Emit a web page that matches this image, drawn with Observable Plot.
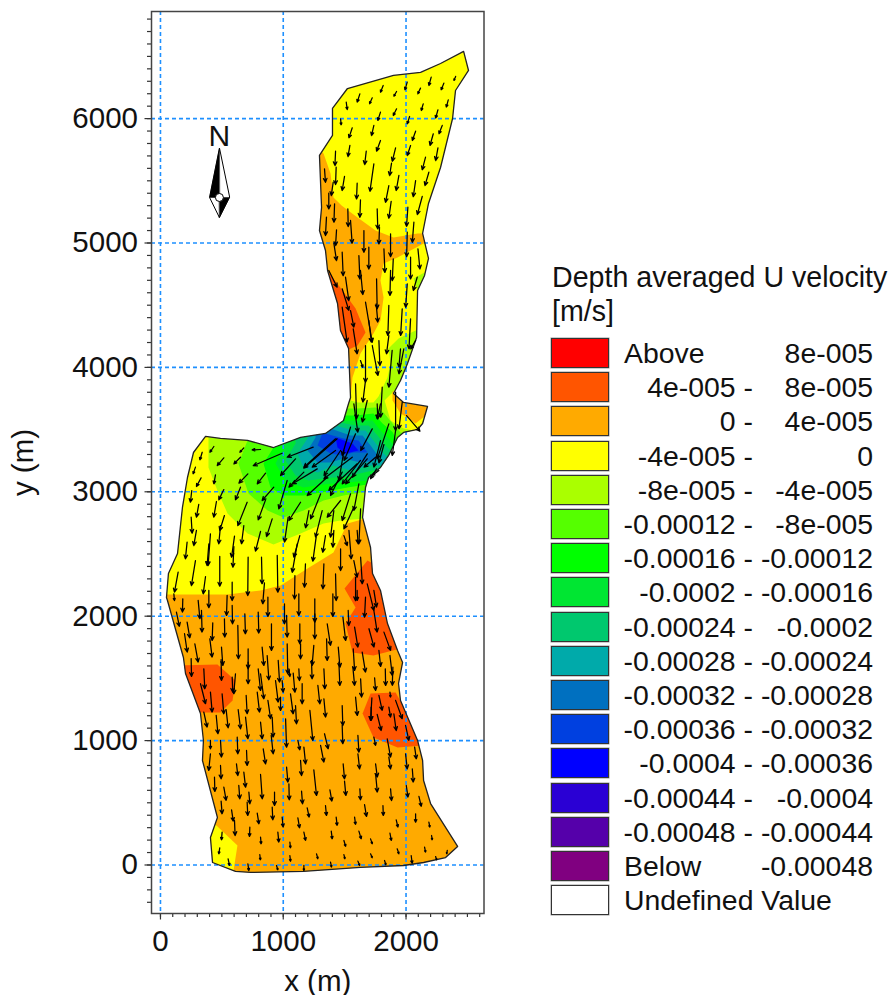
<!DOCTYPE html>
<html><head><meta charset="utf-8">
<script src="https://cdn.jsdelivr.net/npm/d3@7"></script>
<script src="https://cdn.jsdelivr.net/npm/@observablehq/plot@0.6"></script>
<style>
html,body{margin:0;padding:0;background:#fff}
#wrap{position:relative;width:892px;height:995px;font-family:"Liberation Sans",Arial,sans-serif;color:#111}
#legend{position:absolute;left:0;top:0;width:892px;height:995px;pointer-events:none}
.lt{position:absolute;left:552px;font-size:28.6px;line-height:34px;white-space:nowrap}
.sw{position:absolute;left:551px;width:56px;height:28px;border:1.5px solid #333;box-shadow:0 0 0 .5px #999}
.lo,.hi,.nm{position:absolute;font-size:28.4px;line-height:34px;white-space:pre}
.lo{right:139px}.hi{right:19px}.nm{left:624px}
</style></head><body>
<div id="wrap"><div id="chart"></div><div id="legend"></div></div>
<script>
const xTicks = [0,1000,2000];
const yTicks = [0,1000,2000,3000,4000,5000,6000];
const xMinor = d3.range(0,2601,100);
const yMinor = d3.range(-300,6801,100);

const outline = [[2469,6540],[2509,6387],[2403,6226],[2379,6001],[2281,5607],[2183,5318],[2135,5077],[2183,4876],[2151,4739],[2094,4618],[2086,4241],[2012,4032],[1955,3895],[1898,3790],[1980,3718],[2175,3686],[2135,3549],[2094,3501],[1980,3477],[1931,3437],[1858,3292],[1792,3196],[1695,3115],[1670,3035],[1646,2794],[1711,2552],[1727,2343],[1792,2207],[1849,1941],[1931,1724],[1972,1628],[1939,1459],[1955,1322],[2094,1001],[2135,840],[2143,679],[2200,494],[2420,149],[2322,60],[2143,20],[1980,-4],[1629,-20],[1165,-52],[733,-60],[611,-52],[424,20],[407,221],[464,382],[342,840],[350,1001],[326,1218],[204,1539],[187,1668],[57,2126],[49,2150],[65,2343],[139,2504],[179,2874],[220,3115],[269,3316],[367,3445],[489,3429],[709,3413],[921,3356],[1141,3437],[1344,3469],[1491,3573],[1532,3710],[1548,3758],[1532,4152],[1466,4297],[1442,4514],[1361,4779],[1344,4940],[1295,5101],[1312,5286],[1295,5704],[1401,5865],[1401,6082],[1523,6242],[1898,6347],[2118,6371],[2281,6443]];

const yellowNorth = [[1222,6629],[2607,6629],[2607,5086],[2094,5077],[1898,5045],[1752,5101],[1605,5205],[1475,5302],[1409,5366],[1385,5559],[1328,5720],[1263,5784]];
const yellowMain = [[-81,2175],[269,2175],[546,2175],[815,2207],[978,2247],[1198,2384],[1409,2512],[1483,2665],[1523,2745],[1670,2786],[2281,2786],[2281,4996],[2143,4996],[1931,4884],[1817,4836],[1792,4699],[1817,4562],[1792,4377],[1735,4273],[1629,4112],[1564,3919],[1548,3750],[1532,3654],[1466,3533],[-81,3533]];
const yellowSouth = [[367,358],[456,318],[627,157],[595,-44],[326,-44]];
const darkA = [[1369,4763],[1483,4618],[1589,4474],[1670,4281],[1605,4176],[1515,4136],[1385,4216],[1304,4538]];
const darkB = [[1686,2448],[1499,2223],[1589,2070],[1507,1941],[1564,1708],[1735,1684],[1955,1740],[1915,2046],[1833,2367]];
const darkC = [[122,1604],[464,1612],[611,1483],[587,1322],[489,1226],[285,1226]];
const darkD = [[1711,1379],[1915,1387],[2159,961],[1931,945],[1735,1025],[1646,1218]];
const limeSmall = [[2061,4715],[2151,4763],[2151,4618],[2086,4635]];
const limeMain = [[391,3533],[391,3196],[464,3011],[546,2826],[709,2665],[921,2577],[1141,2665],[1328,2745],[1466,2769],[1670,2786],[2118,2786],[2118,3485],[2061,3493],[1980,3509],[1874,3573],[1825,3734],[1906,3815],[2200,3831],[2200,4329],[2078,4297],[1939,4232],[1857,4152],[1874,4032],[1849,3919],[1776,3766],[1735,3718],[1605,3718],[1548,3734],[1466,3734],[1304,3533]];
const green55 = [[709,3533],[709,3413],[635,3228],[717,2987],[872,2850],[1002,2794],[1165,2850],[1328,2930],[1491,2970],[1670,3000],[2118,3000],[2118,3445],[1955,3477],[1890,3549],[1817,3638],[1752,3678],[1605,3670],[1523,3670],[1466,3694],[1304,3533]];
const green00 = [[921,3493],[921,3356],[839,3228],[896,3035],[1002,2970],[1165,2970],[1344,3000],[1523,3035],[1695,3060],[2118,3060],[1890,3481],[1809,3549],[1735,3630],[1589,3614],[1507,3614],[1385,3573]];
const greenE6 = [[1002,3493],[1002,3348],[937,3228],[1018,3091],[1165,3035],[1344,3060],[1523,3075],[1695,3091],[2118,3091],[1857,3429],[1792,3493],[1727,3573],[1589,3573],[1491,3573],[1385,3533]];
const greenC8 = [[1100,3493],[1100,3388],[1018,3252],[1100,3131],[1206,3091],[1361,3110],[1523,3123],[1727,3171],[2037,3171],[1833,3372],[1768,3453],[1695,3533],[1589,3533],[1466,3557],[1344,3509]];
const tealAA = [[1198,3493],[1198,3429],[1116,3308],[1165,3196],[1279,3155],[1409,3212],[1548,3171],[1711,3212],[1915,3212],[1809,3316],[1735,3413],[1670,3493],[1572,3493],[1426,3533],[1304,3509]];
const blue70 = [[1263,3493],[1263,3437],[1198,3332],[1279,3236],[1385,3236],[1491,3268],[1629,3236],[1752,3252],[1776,3284],[1711,3372],[1646,3453],[1548,3453],[1385,3509]];
const blue40 = [[1328,3493],[1279,3372],[1385,3308],[1483,3292],[1572,3316],[1686,3316],[1613,3413],[1491,3429],[1344,3469]];
const blue00 = [[1426,3437],[1564,3388],[1613,3332],[1507,3308],[1442,3356]];
const flumeOrange = [[1890,3806],[1890,3734],[1955,3630],[2012,3598],[2078,3549],[2159,3614],[2240,3614],[2240,3774]];

const arrowsNorth = [[2205,6333,-19,-67],[2308,6285,-22,-54],[2404,6339,-14,-32],[2010,6293,-19,-62],[2118,6245,-22,-46],[1923,6218,-22,-38],[1814,6266,-22,-54],[1624,6199,-22,-67],[1725,6167,-22,-48],[1513,6132,8,-59],[2344,6151,-16,-59],[2140,6119,-16,-54],[1923,6079,-27,-54],[1792,6052,-22,-67],[1467,5998,5,-48],[2260,6071,-19,-67],[2029,6017,-19,-59],[2295,5945,-27,-67],[2078,5899,-27,-75],[1738,5945,-19,-81],[1562,5926,-27,-81],[2222,5878,-27,-94],[1792,5824,-32,-86],[1543,5784,-16,-89],[1915,5765,-27,-108],[2037,5784,-27,-81],[2260,5765,-19,-102],[1426,5738,-5,-116],[1676,5738,-13,-108],[2159,5690,-27,-102],[1738,5636,-32,-221],[1882,5642,-16,-100],[2186,5569,-32,-108],[1336,5596,8,-108],[1431,5610,-5,-140],[1499,5535,-19,-113],[1942,5543,-22,-121],[1860,5462,-27,-135],[2078,5502,-19,-130],[1602,5481,-5,-127],[1407,5489,-16,-108],[1371,5401,0,-127],[2132,5374,-40,-146],[1629,5347,-5,-140],[1879,5334,-19,-135],[1418,5315,-5,-148],[1526,5275,3,-143],[1765,5275,5,-162],[2015,5288,-11,-154],[1352,5208,-8,-148],[1548,5181,13,-184],[2064,5167,-13,-162],[1434,5106,-8,-127],[1657,5100,0,-175],[1784,5127,-5,-135],[1874,5074,0,-184],[2010,5087,-5,-197],[1412,4999,22,-140],[1697,4966,0,-175],[1480,4926,8,-189],[1616,4899,8,-189],[1820,4953,8,-189],[2037,4886,0,-175],[2097,4953,16,-162],[1896,4872,-8,-175]];
const arrowsChannel = [[1371,4779,68,-134],[1480,4632,54,-174],[1507,4725,27,-188],[1629,4779,19,-193],[1760,4712,5,-241],[1874,4779,-5,-201],[2010,4672,-13,-188],[2091,4725,-32,-107],[1670,4524,54,-322],[1757,4511,13,-147],[1860,4498,-8,-241],[1969,4471,-13,-214],[1480,4484,40,-281],[1548,4457,27,-134],[1697,4377,21,-174],[2037,4390,-13,-241],[1570,4310,32,-201],[1779,4216,8,-201],[1670,4176,0,-295],[1860,4256,-19,-147],[1955,4149,-13,-147],[1725,4176,46,-241],[1629,4055,19,-54],[2078,4216,-40,-67],[1982,4149,-40,-201],[1887,4136,-27,-295],[1589,3868,8,-281],[1670,3895,-22,-174],[1806,3841,-13,-241],[1765,3707,5,-121],[1915,3801,0,-308],[1969,3720,-27,-214],[1426,3426,-258,-228],[1548,3520,-68,-228],[1575,3707,32,-228],[1684,3734,-40,-174],[1792,3707,-27,-121],[1725,3506,-94,-174],[1589,3466,-94,-214],[1860,3546,-94,-281],[1792,3412,-54,-214],[1915,3493,-27,-201],[1684,3305,-121,-188],[1752,3278,-94,-80],[1760,3185,-49,-80],[1779,3171,-54,-40],[1494,3332,-40,-241],[1629,3252,-149,-188],[2004,3613,109,-126],[1467,3332,-135,-201],[1820,3380,-41,-147]];
const arrowsBay = [[815,3340,-68,-3],[679,3353,-32,-35],[435,3364,-32,-46],[340,3318,-19,-62],[516,3273,-54,-62],[652,3278,-54,-54],[991,3310,-235,-100],[1244,3359,-212,-81],[1100,3265,-122,-134],[1439,3426,-272,-236],[1426,3332,-190,-134],[1562,3278,-231,-174],[1684,3265,-176,-201],[1602,3225,-231,-214],[1277,3184,-204,-121],[1168,3158,-122,-121],[1480,3158,-95,-188],[1358,3117,-163,-147],[1032,3091,-68,-228],[285,3198,-19,-54],[448,3136,-13,-72],[712,3144,-73,-75],[856,3150,-68,-86],[331,3112,-38,-70],[516,3018,-41,-83],[652,3037,-41,-102],[923,3037,-95,-107],[255,3010,-11,-94],[1141,2916,-95,-147],[1616,3064,-41,-214],[1548,2983,-68,-214],[1304,2983,-81,-201],[1467,2930,-109,-134],[706,2916,-76,-188],[856,2935,-60,-161],[312,2898,-19,-102],[456,2922,-22,-126],[1040,2796,-30,-201],[521,2809,-38,-121],[910,2782,-46,-142],[1209,2849,-27,-139],[1317,2849,-54,-214],[1412,2849,-27,-214],[1575,2876,-81,-174],[1630,2863,-14,-281],[250,2796,8,-129],[293,2689,-22,-121],[815,2681,-41,-158],[679,2729,-19,-147],[489,2729,-14,-147],[407,2662,-19,-255],[1135,2648,-49,-174],[603,2643,-24,-169],[217,2595,-14,-134],[1344,2648,-22,-134],[1412,2689,-8,-134],[1268,2635,-27,-193],[1494,2648,27,-80],[1535,2689,19,-228],[1602,2689,8,-107],[1630,2474,14,-214],[285,2447,-33,-201],[394,2581,-14,-174],[483,2480,0,-239],[598,2560,-8,-166],[714,2474,-3,-308],[823,2474,5,-214],[951,2488,5,-295],[1114,2581,-41,-228],[1181,2421,-8,-188],[1331,2421,-8,-201],[1467,2541,0,-174],[1575,2447,27,-134],[144,2354,-30,-161],[367,2319,-19,-139],[584,2273,0,-147],[847,2268,-14,-169],[1095,2327,-3,-188],[1589,2313,0,-188],[1426,2340,5,-214],[1684,2260,54,-214]];
const arrowsSouth = [[109,2180,5,-54],[182,2140,-3,-107],[307,2127,14,-147],[394,2207,0,-139],[543,2167,-5,-161],[584,2086,3,-147],[875,2153,0,-155],[1010,2100,0,-161],[1127,2180,0,-174],[1257,2140,0,-188],[1404,2180,0,-182],[1602,2207,0,-80],[1738,2207,22,-134],[1670,2153,-8,-161],[130,2033,24,-115],[217,1952,22,-126],[334,2046,5,-174],[426,1947,-5,-142],[521,1979,3,-147],[687,2019,5,-161],[796,2033,5,-169],[904,1939,0,-214],[1027,2006,5,-174],[1135,1939,0,-161],[1257,2019,0,-201],[1486,1993,22,-188],[1529,2046,5,-121],[1358,1939,27,-174],[1738,2046,27,-174],[1698,1899,41,-147],[1581,1912,27,-161],[1820,1872,54,-147],[402,1818,19,-147],[196,1859,22,-147],[280,1778,27,-147],[497,1751,11,-147],[630,1926,5,-268],[828,1751,14,-147],[714,1738,0,-161],[1032,1778,5,-241],[1141,1778,0,-121],[1249,1765,-14,-161],[1353,1818,5,-174],[1448,1751,14,-161],[1570,1738,11,-174],[1643,1711,27,-161],[1779,1725,14,-129],[1869,1684,19,-161],[250,1658,3,-142],[353,1577,8,-161],[494,1650,3,-166],[611,1537,-14,-161],[714,1631,0,-174],[796,1577,19,-174],[869,1684,14,-196],[959,1644,11,-174],[1046,1577,8,-62],[1127,1577,5,-94],[1230,1644,5,-147],[1331,1577,8,-161],[1453,1631,8,-188],[1567,1591,14,-147],[1744,1505,8,-102],[1831,1577,3,-134],[1893,1591,-5,-147],[326,1457,41,-161],[407,1390,14,-161],[502,1376,14,-161],[584,1510,5,-121],[937,1483,22,-174],[815,1537,27,-201],[991,1483,8,-94],[1081,1542,14,-153],[1154,1457,0,-161],[1282,1443,16,-147],[1331,1336,14,-147],[1589,1349,14,-147],[1630,1497,8,-147],[1722,1344,-11,-182],[1779,1363,27,-121],[1869,1390,5,-40],[1915,1323,54,-147],[698,1363,8,-147],[788,1390,19,-161],[875,1323,22,-147],[978,1349,0,-107],[1059,1376,22,-161],[353,1229,27,-121],[454,1202,14,-147],[535,1248,16,-145],[633,1248,19,-153],[693,1189,19,-174],[815,1148,14,-134],[910,1189,8,-161],[1100,1282,8,-147],[1217,1242,24,-241],[1480,1282,5,-161],[1765,1210,33,-129],[1716,1269,0,-107],[1901,1215,19,-134],[1996,1122,27,-121],[1860,1269,14,-80],[1019,1175,8,-228],[407,1001,0,-67],[489,1001,8,-134],[625,1028,5,-134],[1336,1055,30,-121],[1480,1122,5,-147],[1608,1041,8,-134],[1738,1028,14,-67],[1847,1014,27,-147],[2070,947,14,-94],[1119,1001,16,-75],[407,894,-14,-134],[619,813,11,-94],[701,921,5,-121],[837,934,19,-121],[902,1041,16,-147],[1168,947,14,-134],[1304,961,27,-134],[1488,813,11,-121],[1608,894,14,-121],[1752,813,14,-107],[1860,867,14,-94],[1996,894,14,-121],[489,800,5,-107],[1141,840,8,-121],[1027,787,11,-121],[1249,765,22,-206],[2051,773,8,-107],[815,728,14,-196],[679,746,14,-121],[440,706,3,-115],[516,626,19,-107],[638,639,8,-107],[720,586,8,-94],[929,586,0,-107],[1046,653,3,-129],[1149,594,8,-102],[1380,604,16,-91],[1499,674,11,-115],[1624,612,5,-88],[1752,733,14,-147],[1874,612,8,-94],[2002,639,14,-94],[2105,551,19,-80],[494,513,8,-102],[579,443,14,-91],[706,505,5,-107],[788,417,14,-86],[910,465,5,-102],[1195,460,16,-75],[1344,478,8,-80],[1662,486,16,-96],[1812,478,3,-80],[2078,411,0,-67],[603,358,5,-121],[728,304,-3,-75],[991,385,8,-80],[1119,379,14,-80],[1431,385,8,-67],[1581,385,8,-59],[1920,363,14,-59],[2186,344,8,-40],[502,264,-5,-62],[815,224,5,-54],[956,264,8,-80],[1168,264,14,-67],[1391,272,8,-62],[1616,272,19,-62],[1869,256,11,-59],[2208,237,5,-35],[483,138,-8,-48],[1054,184,5,-46],[1494,197,14,-48],[1711,210,14,-40],[2336,117,-5,-27],[809,84,5,-43],[1054,76,5,-46],[1271,90,11,-40],[1494,84,8,-35],[1711,90,14,-32],[1928,130,14,-40],[2151,143,8,-40],[551,50,11,-54],[712,9,8,-54],[945,-4,11,-35],[1168,-4,0,-40],[1385,23,8,-40],[1608,31,14,-35],[1825,36,11,-35],[2042,76,8,-62],[2241,68,8,-27]];

const needleOutline = [[480,5760],[400,5366],[480,5205],[562,5366]];
const needleDark1 = [[480,5760],[400,5366],[480,5366]];
const needleDark2 = [[480,5366],[562,5366],[480,5205]];
const needleHub = [[480,5366]];

const legendColors = ["#FF0000","#FF5500","#FFAA00","#FFFF00","#AAFF00","#55FF00","#00FF00","#00E632","#00C86E","#00AAAA","#0070C0","#0040E0","#0000FF","#2A00D4","#5500AA","#800080","#FFFFFF"];
const legendLow = ["","4e-005 -","0 -","-4e-005 -","-8e-005 -","-0.00012 -","-0.00016 -","-0.0002 -","-0.00024 -","-0.00028 -","-0.00032 -","-0.00036 -","-0.0004 -","-0.00044 -","-0.00048 -","",""];
const legendHigh = ["8e-005","8e-005","4e-005","0","-4e-005","-8e-005","-0.00012","-0.00016","-0.0002","-0.00024","-0.00028","-0.00032","-0.00036","-0.0004","-0.00044","-0.00048",""];
const legendNames = {0:"Above",15:"Below",16:"Undefined Value"};

const ORANGE="#FFAA00", DARK="#FF5500", YELLOW="#FFFF00", LIME="#AAFF00";
const layers = [
  [yellowNorth,YELLOW],[yellowMain,YELLOW],[yellowSouth,YELLOW],
  [darkA,DARK],[darkB,DARK],[darkC,DARK],[darkD,DARK],
  [limeSmall,LIME],[limeMain,LIME],[green55,"#55FF00"],[green00,"#00FF00"],[greenE6,"#00E632"],[greenC8,"#00C86E"],
  [tealAA,"#00AAAA"],[blue70,"#0070C0"],[blue40,"#0040E0"],[blue00,"#0000FF"],[flumeOrange,ORANGE]
];
const px = d=>d[0], py = d=>d[1];
let clipN = 0;
function clipBasin(index, scales, values, dims, ctx, next){
  const g = next(index, scales, values, dims, ctx);
  const id = "basin"+(clipN++);
  const cp = document.createElementNS("http://www.w3.org/2000/svg","clipPath");
  cp.setAttribute("id",id);
  const p = document.createElementNS("http://www.w3.org/2000/svg","path");
  p.setAttribute("d", d3.line()(outline.map(d=>[scales.x(d[0]),scales.y(d[1])]))+"Z");
  cp.appendChild(p); g.appendChild(cp);
  g.setAttribute("clip-path",`url(#${id})`);
  return g;
}
const arrows = [...arrowsNorth,...arrowsChannel,...arrowsBay,...arrowsSouth];
const FS = 29.5;
const chart = Plot.plot({
  width:892, height:995,
  marginLeft:151, marginRight:408.5, marginTop:11, marginBottom:82,
  x:{domain:[-73,2635]}, y:{domain:[-390,6861]},
  style:{background:"transparent",fontFamily:"Liberation Sans, Arial, sans-serif",color:"#111"},
  marks:[
    Plot.line(outline,{x:px,y:py,fill:ORANGE,stroke:"none",curve:"linear-closed"}),
    ...layers.map(([pts,c])=>Plot.line(pts,{x:px,y:py,fill:c,stroke:"none",curve:"linear-closed",render:clipBasin})),
    Plot.gridX(xTicks,{stroke:"#1E90FF",strokeOpacity:1,strokeWidth:1.6,strokeDasharray:"4,3"}),
    Plot.gridY(yTicks,{stroke:"#1E90FF",strokeOpacity:1,strokeWidth:1.6,strokeDasharray:"4,3"}),
    Plot.line(outline,{x:px,y:py,stroke:"#222",strokeWidth:1.3,curve:"linear-closed"}),
    Plot.arrow(arrows,{x1:d=>d[0],y1:d=>d[1],x2:d=>d[0]+d[2],y2:d=>d[1]+d[3],stroke:"#000",strokeWidth:1.25,headLength:5,headAngle:50,bend:false}),
    Plot.line(needleOutline,{x:px,y:py,fill:"#fff",stroke:"#000",strokeWidth:1,curve:"linear-closed"}),
    Plot.line(needleDark1,{x:px,y:py,fill:"#000",stroke:"#000",strokeWidth:.5,curve:"linear-closed"}),
    Plot.line(needleDark2,{x:px,y:py,fill:"#000",stroke:"#000",strokeWidth:.5,curve:"linear-closed"}),
    Plot.dot(needleHub,{x:px,y:py,r:4,fill:"#fff",stroke:"#000",strokeWidth:1}),
    Plot.text(["N"],{x:[480],y:[5760],dy:-12,text:d=>d,fontSize:30,fill:"#111"}),
    Plot.axisX({ticks:xMinor,tickSize:4,fill:"none",label:null,stroke:"#333",strokeWidth:1.2}),
    Plot.axisY({ticks:yMinor,tickSize:4,fill:"none",label:null,stroke:"#333",strokeWidth:1.2}),
    Plot.axisX({ticks:xTicks,tickSize:6.5,tickPadding:10,fontSize:FS,stroke:"#333",strokeWidth:1.2,fill:"#111",tickFormat:d=>String(d),label:"x (m)",labelAnchor:"center",labelArrow:"none",labelOffset:77}),
    Plot.axisY({ticks:yTicks,tickSize:6.5,tickPadding:7,fontSize:FS,stroke:"#333",strokeWidth:1.2,fill:"#111",tickFormat:d=>String(d),label:"y (m)",labelAnchor:"center",labelArrow:"none",labelOffset:139}),
    Plot.frame({stroke:"#444",strokeWidth:1.5})
  ]
});
document.getElementById("chart").appendChild(chart);

const lg = document.getElementById("legend");
function add(cls,text,top,bg){
  const e=document.createElement("div"); e.className=cls; e.style.top=top+"px";
  if(text!=null) e.textContent=text; if(bg) e.style.background=bg; lg.appendChild(e);
}
add("lt","Depth averaged U velocity",260);
add("lt","[m/s]",294);
legendColors.forEach((c,i)=>{
  const t = 338+i*34.2;
  add("sw",null,t,c);
  if(legendNames[i]) add("nm",legendNames[i],t-2);
  if(legendLow[i]) add("lo",legendLow[i],t-2);
  if(legendHigh[i]) add("hi",legendHigh[i],t-2);
});
</script>
</body></html>
